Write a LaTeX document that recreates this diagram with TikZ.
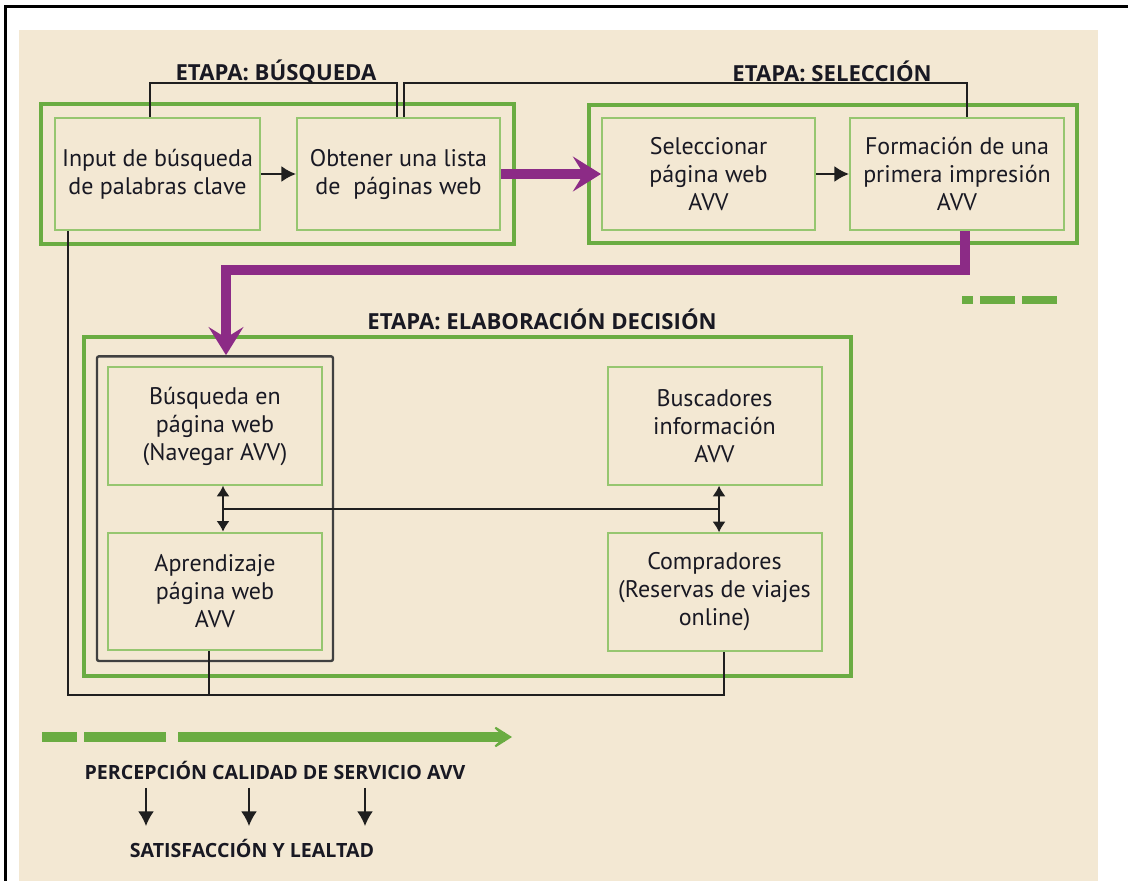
\documentclass[tikz,border=0pt]{standalone}
\usepackage{fontspec}
\setmainfont{PT Sans}
\newfontfamily\headfont{Open Sans}
\usetikzlibrary{arrows.meta, positioning, calc, fit}

\definecolor{paper}{RGB}{243,232,211}
\definecolor{stagegreen}{RGB}{106,172,66}
\definecolor{boxgreen}{RGB}{150,198,112}
\definecolor{avvpurple}{RGB}{140,43,134}
\definecolor{inkdark}{RGB}{25,25,35}

\begin{document}
\begin{tikzpicture}[
    x=0.75pt, y=-0.75pt,
    stepbox/.style={rectangle, draw=boxgreen, line width=1.5pt, text=inkdark, align=center, font=\fontsize{18}{21}\selectfont, minimum width=#1, minimum height=88pt, inner sep=2pt},
    stage/.style={rectangle, draw=stagegreen, line width=3pt, inner sep=10pt},
    title/.style={font=\headfont\fontsize{16.6}{18}\selectfont\bfseries, text=inkdark},
    note/.style={font=\headfont\fontsize{14.7}{17}\selectfont\bfseries, text=inkdark},
    link/.style={draw=black!88, line width=1.5pt},
    arrow/.style={link, -{Latex[length=11pt,width=12pt]}},
    both/.style={link, {Latex[length=8pt,width=10pt]}-{Latex[length=8pt,width=10pt]}},
    flow/.style={draw=avvpurple, line width=7.5pt, -{Stealth[length=21pt,width=26pt,inset=8pt]}}
]
    \useasboundingbox (0,0) rectangle (1128,881);
    \fill[white] (0,0) rectangle (1128,881);
    \fill[paper] (19,30) rectangle (1098,881);
    \draw[line width=2.25pt] (5,881) -- (5,6.5) -- (1128,6.5);

    % etapa busqueda
    \node[stepbox=153.75pt, minimum height=84pt] (inA) at (157.5,174) {Input de búsqueda\\de palabras clave};
    \node[stepbox=152.25pt, minimum height=84pt, right=26.25pt of inA] (inB) {Obtener una lista\\de \ páginas web};
    \node[stage, fit=(inA)(inB)] (stageA) {};
    \node[title] (tBusq) at (276,72) {ETAPA: BÚSQUEDA};

    % etapa seleccion
    \node[stepbox=159.75pt, minimum height=84pt] (selA) at (708.5,174) {Seleccionar\\página web\\AVV};
    \node[stepbox=160.5pt, minimum height=84pt, right=24.75pt of selA] (selB) {Formación de una\\primera impresión\\AVV};
    \node[stage, fit=(selA)(selB), inner sep=9pt] (stageB) {};
    \node[title] (tSel) at (832,71) {ETAPA: SELECCIÓN};

    % etapa elaboracion decision
    \node[stage, minimum width=575pt, minimum height=254pt] (stageC) at (467.5,506.5) {};
    \node[title] (tElab) at (542,319) {ETAPA: ELABORACIÓN DECISIÓN};
    \node[stepbox=160.5pt] (busq) at (215,426) {Búsqueda en\\página web\\(Navegar AVV)};
    \node[stepbox=160.5pt, below=34.5pt of busq] (aprend) {Aprendizaje\\página web\\AVV};
    \node[draw=black!75, line width=1.8pt, rounded corners=1.5pt, fit=(busq)(aprend), inner sep=7.5pt] (navbox) {};
    \node[stepbox=160.5pt] (buscad) at (714.5,426) {Buscadores\\información\\AVV};
    \node[stepbox=160.5pt, below=35pt of buscad] (compr) {Compradores\\(Reservas de viajes\\online)};

    % conectores
    \draw[link] ([xshift=-5.6pt]inA.north) |- ([xshift=-1.1pt,yshift=25.5pt]inB.north) -- ([xshift=-1.1pt]inB.north);
    \draw[link] ([xshift=4.1pt]inB.north) |- ([xshift=7.5pt,yshift=25.5pt]selB.north) -- ([xshift=7.5pt]selB.north);
    \draw[arrow] (inA) -- (inB);
    \draw[arrow] (selA) -- (selB);
    \draw[flow] (inB.east) -- (selA.west);
    \draw[flow] ([xshift=6pt]selB.south) |- ([xshift=8.25pt,yshift=63.75pt]navbox.north) -- ([xshift=8.25pt]navbox.north);

    \draw[both] ([xshift=6pt]busq.south) -- ([xshift=6pt]aprend.north);
    \draw[both] ([xshift=3.4pt]buscad.south) -- ([xshift=3.4pt]compr.north);
    \draw[link] ($([xshift=6pt]busq.south)!0.5!([xshift=6pt]aprend.north)$) -| ([xshift=3.4pt,yshift=-17pt]buscad.south);

    \draw[link] ([xshift=-67pt]inA.south) |- ([xshift=7pt,yshift=-32.25pt]compr.south) -- ([xshift=7pt]compr.south);
    \draw[link] ([xshift=-4.5pt]aprend.south) -- ([xshift=-4.5pt,yshift=-32.25pt]aprend.south);

    % leyenda
    \draw[stagegreen, line width=6pt, dash pattern=on 8.25pt off 5.25pt on 26.25pt off 5.25pt on 26.25pt] (962,300) -- (1057,300);

    \coordinate (qstart) at (42,737);
    \coordinate (qend) at (512,737);
    \draw[stagegreen, line width=7.5pt, dash pattern=on 26.25pt off 5.25pt on 61.5pt off 9pt on 400pt, -{Stealth[length=19pt,width=24pt,inset=13pt]}] (qstart) -- (qend);

    \node[note] (percep) at (275,770) {PERCEPCIÓN CALIDAD DE SERVICIO AVV};
    \node[note] (satisf) at (252,848) {SATISFACCIÓN Y LEALTAD};
    \foreach \x in {146,249,365}
        \draw[arrow, shorten <=3pt, shorten >=6pt] (percep.south -| \x,0) -- (satisf.north -| \x,0);
\end{tikzpicture}
\end{document}
